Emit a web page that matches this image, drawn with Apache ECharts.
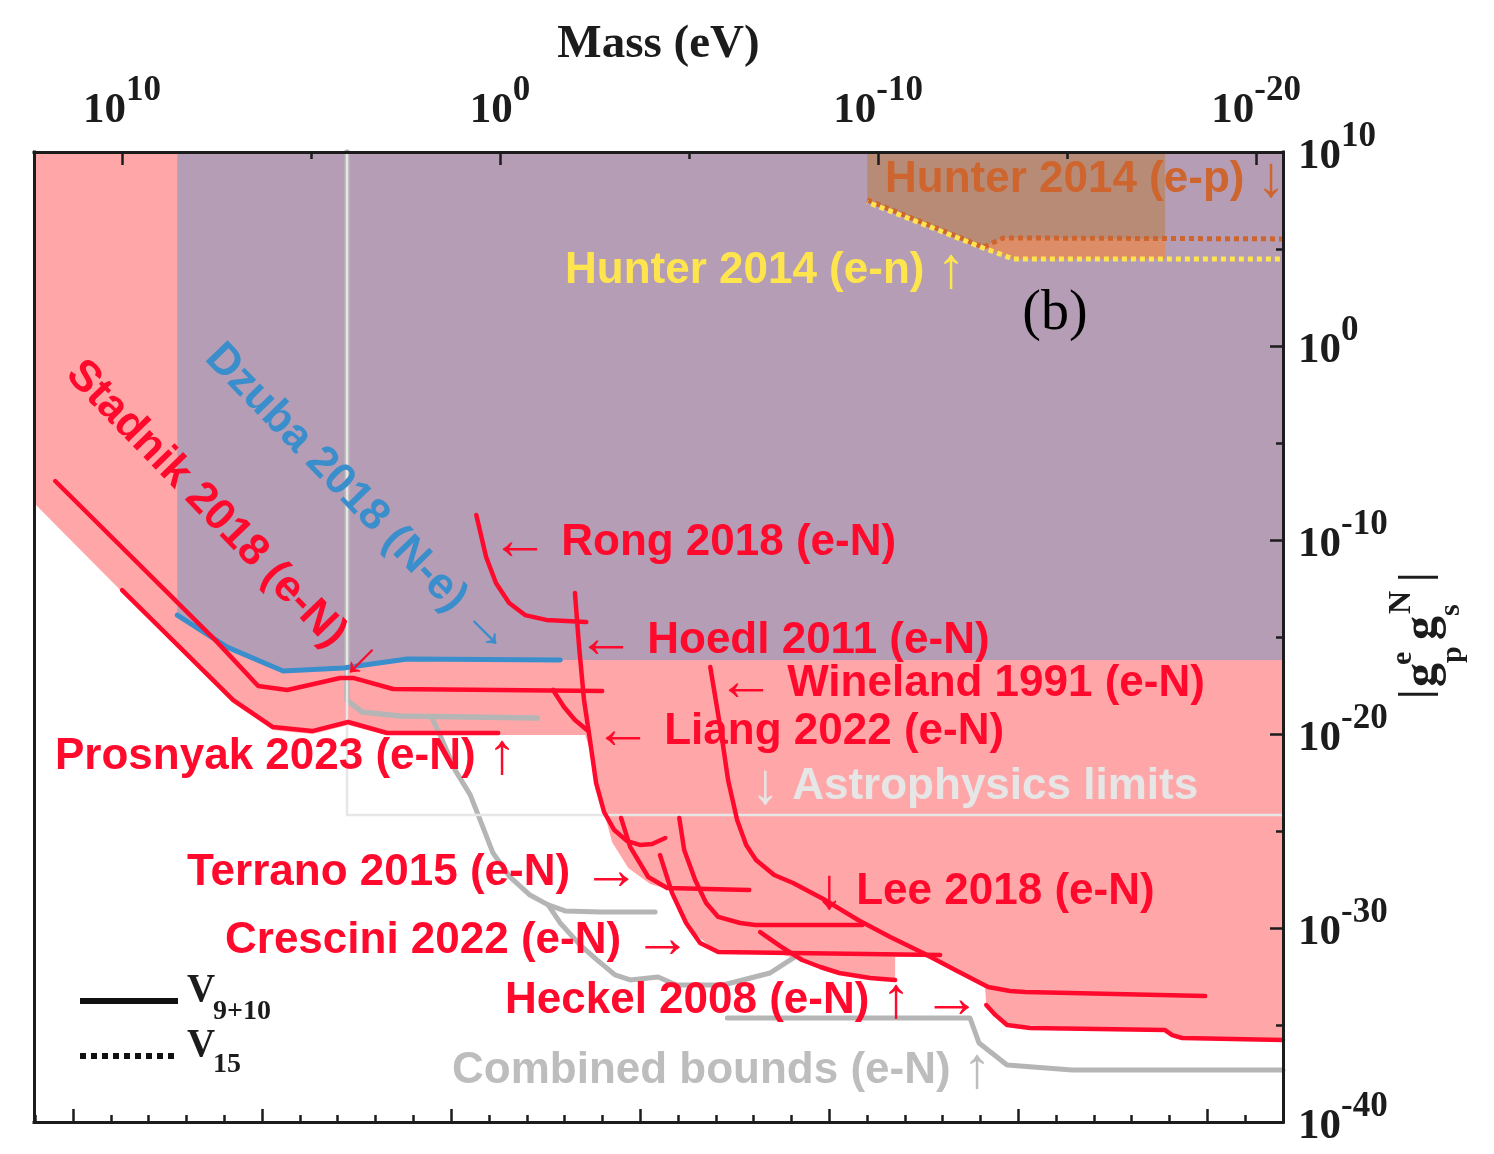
<!DOCTYPE html>
<html>
<head>
<meta charset="utf-8">
<title>Spin-dependent electron–nucleon coupling limits</title>
<script src="https://cdn.jsdelivr.net/npm/echarts@6/dist/echarts.min.js"></script>
<style>
  html, body { margin: 0; padding: 0; background: #ffffff; }
  #chart { width: 1494px; height: 1154px; }
</style>
</head>
<body>
<div id="chart"></div>
<script>
// All axis values are decimal exponents:
//   x = log10(mass / eV), y = log10 |g_p^e g_s^N|
const massRange = [-20.71, 12.33];
const couplingRange = [-40, 10];

// Tick exponents
const massLabelExps = [10, 0, -10, -20];
const massMinorExps = [5, -5, -15];
const couplingLabelExps = [10, 0, -10, -20, -30, -40];
const couplingMinorExps = [5, -5, -15, -25, -35];
// Compton-wavelength decades (metres) on the lower axis, lambda = hbar*c / m
const lambdaMajorExps = [-18, -13, -8, -3, 2, 7, 12];
const lambdaMinorExps = [-19, -17, -16, -15, -14, -12, -11, -10, -9, -7, -6, -5, -4,
                         -2, -1, 0, 1, 3, 4, 5, 6, 8, 9, 10, 11, 13, 14];
const HBAR_C_EV_M = 1.97327e-7;

// Excluded regions (lower edges)
const labExcludedEdge = [[12.33,-8.09],[10.05,-12.58],[7.06,-18.40],[6.01,-19.79],[4.97,-20.00],
  [4.02,-19.54],[2.99,-20.05],[-2.25,-20.05],[-2.38,-20.82],[-2.57,-22.37],[-2.75,-24.02],
  [-2.96,-25.57],[-3.39,-26.91],[-3.97,-27.73],[-4.42,-27.99],[-4.55,-28.20],[-5.03,-30.10],
  [-5.77,-31.29],[-7.49,-31.39],[-7.99,-31.65],[-8.97,-32.32],[-10.45,-32.68],[-10.45,-31.49],
  [-11.24,-31.49],[-12.04,-32.16],[-12.83,-33.09],[-12.86,-33.97],[-13.41,-35.00],[-17.59,-35.26],
  [-18.04,-35.77],[-20.71,-35.77]];
const dzubaLimit = [[8.54,-13.87],[7.22,-15.52],[5.74,-16.75],[4.15,-16.60],[2.46,-16.13],[-1.59,-16.19]];
const hunterEpLimit = [[-9.71,7.53],[-12.78,5.10],[-13.31,5.57],[-20.71,5.52]];
const hunterEnLimit = [[-9.71,7.42],[-12.78,5.05],[-13.23,4.74],[-13.57,4.48],[-20.71,4.48]];
const hunterEpPatch = [[-9.71,7.53],[-12.78,5.10],[-13.31,5.57],[-17.59,5.52]];
const hunterEnPatch = [[-12.78,5.05],[-13.23,4.74],[-13.57,4.48],[-17.59,4.48]];

// Laboratory limits (e-N)
const stadnik2018 = [[11.77,-6.96],[7.54,-15.15],[6.40,-17.53],[5.63,-17.73],[4.23,-17.11],
  [3.89,-17.11],[2.83,-17.68],[-2.70,-17.78]];
const prosnyak2023 = [[10.00,-12.58],[7.06,-18.25],[6.01,-19.64],[4.97,-19.85],[4.02,-19.38],
  [2.99,-19.95],[0.05,-19.95]];
const rong2018 = [[0.63,-8.71],[0.37,-10.88],[0.11,-12.22],[-0.24,-13.25],[-0.66,-13.87],
  [-1.22,-14.12],[-2.28,-14.23]];
const hoedl2011 = [[-1.98,-12.73],[-2.09,-15.52],[-2.22,-18.25],[-2.35,-19.95],[-2.54,-22.53],
  [-2.75,-24.02],[-3.02,-24.95],[-3.36,-25.52],[-3.70,-25.72],[-4.02,-25.67],[-4.37,-25.36]];
const liang2022 = [[-1.40,-17.73],[-1.69,-18.61],[-1.98,-19.28],[-2.33,-19.85]];
const terrano2015 = [[-3.20,-24.33],[-3.44,-25.82],[-3.92,-27.37],[-4.42,-27.94],[-6.59,-28.04]];
const crescini2022 = [[-4.23,-26.24],[-4.55,-28.20],[-4.92,-29.74],[-5.29,-30.77],[-5.77,-31.24],
  [-11.64,-31.39]];
const lee2018 = [[-4.74,-24.33],[-4.87,-25.98],[-5.16,-27.53],[-5.45,-28.71],[-5.77,-29.43],
  [-6.35,-29.74],[-6.75,-29.85],[-9.58,-29.85]];
const wineland1991 = [[-5.56,-16.55],[-5.85,-19.95],[-6.03,-22.37],[-6.27,-24.43],[-6.51,-25.72],
  [-6.77,-26.49],[-7.25,-27.27],[-7.75,-27.68],[-8.60,-28.56],[-9.47,-29.59],[-10.32,-30.46],
  [-11.19,-31.29],[-12.04,-32.16],[-12.91,-33.04],[-13.49,-33.25],[-13.89,-33.30],[-18.65,-33.51]];
const heckel2008 = [[-6.88,-30.21],[-7.41,-30.93],[-7.99,-31.65],[-8.47,-32.01],[-8.97,-32.32],
  [-9.79,-32.58],[-10.45,-32.68]];
const heckel2008Low = [[-12.86,-33.97],[-13.10,-34.48],[-13.41,-35.00],[-14.02,-35.15],
  [-17.59,-35.26],[-17.78,-35.52],[-18.04,-35.67],[-20.71,-35.77]];

// Astrophysics limit and combined bounds
const astroLimit = [[4.05,10],[4.05,-24.18],[-20.71,-24.18]];
const combinedA = [[4.05,10],[4.05,-18.25],[3.65,-18.87],[2.65,-19.07],[-0.98,-19.18]];
const combinedB = [[1.80,-19.18],[1.59,-20.05],[1.19,-21.86],[0.79,-23.14],[0.53,-24.43],
  [0.19,-26.13],[-0.26,-27.37],[-0.79,-28.30],[-1.27,-28.81],[-1.72,-29.12],[-2.65,-29.18],[-4.10,-29.18]];
const combinedC = [[-1.27,-28.81],[-1.59,-29.74],[-2.12,-30.88],[-2.57,-31.65],[-3.04,-32.42],
  [-3.44,-32.68],[-4.18,-32.53],[-4.66,-32.94],[-5.90,-32.94],[-7.14,-32.32],[-7.80,-31.49]];
const combinedD = [[-6.01,-34.64],[-12.43,-34.64],[-12.67,-35.93],[-13.41,-37.06],[-15.13,-37.32],
  [-20.71,-37.32]];

// Colours
const RED = '#FF0A2D';
const PINK = '#FFA7A8';
const PURPLE = '#B49DB5';
const BLUE = '#3A8ECB';
const GRAY = '#B5B5B5';
const LIGHT = '#E6E6E6';
const ORANGE = '#CF652E';
const YELLOW = '#FFE54D';
const BROWN = '#B88B76';
const STRIP = '#DD8D67';
const INK = '#1c1c1c';

const lambdaToMass = (e) => Math.log10(HBAR_C_EV_M) - e;

function powerLabel(v) {
  return '{b|10}{s|' + Math.round(v) + '}';
}
const powerRich = {
  b: { fontFamily: 'Liberation Serif', fontWeight: 'bold', fontSize: 43, lineHeight: 59,
       verticalAlign: 'bottom', color: INK },
  s: { fontFamily: 'Liberation Serif', fontWeight: 'bold', fontSize: 35, lineHeight: 36,
       verticalAlign: 'top', color: INK }
};

function curve(name, data, color, width, extra) {
  return Object.assign({
    name: name, type: 'line', data: data, symbol: 'none', showSymbol: false, silent: true,
    lineStyle: { color: color, width: width, cap: 'round', join: 'round' }
  }, extra || {});
}
function region(name, data, color) {
  return {
    name: name, type: 'line', data: data, symbol: 'none', showSymbol: false, silent: true,
    lineStyle: { width: 0, opacity: 0 },
    areaStyle: { color: color, opacity: 1, origin: 'end' }
  };
}

const frameLine = { show: true, onZero: false, lineStyle: { color: INK, width: 3, cap: 'square' } };
const hiddenLine = { show: false, onZero: false };
const tickLine = { color: INK, width: 2.5 };
const xBase = { type: 'value', min: massRange[0], max: massRange[1], inverse: true,
                splitLine: { show: false }, z: 10 };
const yBase = { type: 'value', min: couplingRange[0], max: couplingRange[1],
                splitLine: { show: false }, z: 10 };

const serifBold = 'Liberation Serif';
const sans = 'Liberation Sans';
const FS = 44;
const AFS = 58;

function note(x, y, text, color, extra, align) {
  const al = align || 'left';
  return Object.assign({
    type: 'text', x: x, y: y, z: 60, silent: true,
    style: {
      text: text, fill: color,
      fontFamily: sans, fontWeight: 'bold', fontSize: FS,
      align: al, verticalAlign: 'middle', textAlign: al, textVerticalAlign: 'middle',
      rich: {
        t: { fontFamily: sans, fontWeight: 'bold', fontSize: FS, fill: color, color: color, verticalAlign: 'middle' },
        a: { fontFamily: sans, fontWeight: 'normal', fontSize: AFS, fill: color, color: color, verticalAlign: 'middle' }
      }
    }
  }, extra || {});
}
function glyph(x, y, text, font, extra) {
  return Object.assign({
    type: 'text', x: x, y: y, z: 60, silent: true,
    style: { text: text, fill: INK, font: font, align: 'left', verticalAlign: 'middle',
             textAlign: 'left', textVerticalAlign: 'middle' }
  }, extra || {});
}

const option = {
  animation: false,
  backgroundColor: '#ffffff',
  grid: { left: 34, right: 211, top: 152, bottom: 32, containLabel: false, outerBoundsMode: 'none' },
  xAxis: [
    Object.assign({}, xBase, {
      position: 'top',
      name: 'Mass (eV)', nameLocation: 'middle', nameGap: 80,
      nameTextStyle: { fontFamily: serifBold, fontWeight: 'bold', fontSize: 47, color: INK },
      axisLine: frameLine,
      axisTick: { show: true, inside: true, length: 13, lineStyle: tickLine, customValues: massLabelExps },
      axisLabel: { show: true, customValues: massLabelExps, margin: 20, formatter: powerLabel, rich: powerRich }
    }),
    Object.assign({}, xBase, {
      position: 'top',
      axisLine: hiddenLine,
      axisTick: { show: true, inside: true, length: 7, lineStyle: tickLine, customValues: massMinorExps },
      axisLabel: { show: false }
    }),
    Object.assign({}, xBase, {
      position: 'bottom',
      axisLine: frameLine,
      axisTick: { show: true, inside: true, length: 13, lineStyle: tickLine,
                  customValues: lambdaMajorExps.map(lambdaToMass) },
      axisLabel: { show: false }
    }),
    Object.assign({}, xBase, {
      position: 'bottom',
      axisLine: hiddenLine,
      axisTick: { show: true, inside: true, length: 7, lineStyle: tickLine,
                  customValues: lambdaMinorExps.map(lambdaToMass) },
      axisLabel: { show: false }
    })
  ],
  yAxis: [
    Object.assign({}, yBase, {
      position: 'right',
      axisLine: frameLine,
      axisTick: { show: true, inside: true, length: 13, lineStyle: tickLine, customValues: couplingLabelExps },
      axisLabel: { show: true, customValues: couplingLabelExps, margin: 15, padding: [0, 0, 6, 0],
                   formatter: powerLabel, rich: powerRich }
    }),
    Object.assign({}, yBase, {
      position: 'right',
      axisLine: hiddenLine,
      axisTick: { show: true, inside: true, length: 7, lineStyle: tickLine, customValues: couplingMinorExps },
      axisLabel: { show: false }
    }),
    Object.assign({}, yBase, {
      position: 'left',
      axisLine: frameLine,
      axisTick: { show: false },
      axisLabel: { show: false }
    })
  ],
  series: [
    region('Laboratory excluded', labExcludedEdge, PINK),
    region('Dzuba excluded', dzubaLimit.concat([[massRange[0], dzubaLimit[dzubaLimit.length - 1][1]]]), PURPLE),
    region('Hunter e-n excluded', hunterEnPatch, STRIP),
    region('Hunter e-p excluded', hunterEpPatch, BROWN),
    curve('Combined bounds A', combinedA, GRAY, 5.5),
    curve('Combined bounds B', combinedB, GRAY, 5),
    curve('Combined bounds C', combinedC, GRAY, 5),
    curve('Combined bounds D', combinedD, GRAY, 5),
    curve('Astrophysics limits', astroLimit, LIGHT, 2.5, { lineStyle: { color: LIGHT, width: 2.5, cap: 'butt', join: 'miter' } }),
    curve('Dzuba 2018 (N-e)', dzubaLimit, BLUE, 5),
    curve('Stadnik 2018 (e-N)', stadnik2018, RED, 4.5),
    curve('Prosnyak 2023 (e-N)', prosnyak2023, RED, 4.5),
    curve('Rong 2018 (e-N)', rong2018, RED, 4.5),
    curve('Hoedl 2011 (e-N)', hoedl2011, RED, 4.5),
    curve('Liang 2022 (e-N)', liang2022, RED, 4.5),
    curve('Terrano 2015 (e-N)', terrano2015, RED, 4.5),
    curve('Crescini 2022 (e-N)', crescini2022, RED, 4.5),
    curve('Lee 2018 (e-N)', lee2018, RED, 4.5),
    curve('Wineland 1991 (e-N)', wineland1991, RED, 4.5),
    curve('Heckel 2008 (e-N)', heckel2008, RED, 4.5),
    curve('Heckel 2008 (e-N) low', heckel2008Low, RED, 4.5),
    curve('Hunter 2014 (e-p)', hunterEpLimit, ORANGE, 5,
      { lineStyle: { color: ORANGE, width: 5, type: [5, 4], cap: 'butt' } }),
    curve('Hunter 2014 (e-n)', hunterEnLimit, YELLOW, 5,
      { lineStyle: { color: YELLOW, width: 5, type: [5, 4], dashOffset: 4.5, cap: 'butt' } })
  ],
  graphic: [
    // experiment annotations
    note(491, 543, '{a|←}{t| Rong 2018 (e-N)}', RED),
    note(577, 641, '{a|←}{t| Hoedl 2011 (e-N)}', RED),
    note(717, 684, '{a|←}{t| Wineland 1991 (e-N)}', RED),
    note(594, 732, '{a|←}{t| Liang 2022 (e-N)}', RED),
    note(55, 757, '{t|Prosnyak 2023 (e-N) }{a|↑}', RED),
    note(751, 787, '{a|↓}{t| Astrophysics limits}', LIGHT),
    note(187, 873, '{t|Terrano 2015 (e-N) }{a|→}', RED),
    note(815, 892, '{a|↓}{t| Lee 2018 (e-N)}', RED),
    note(225, 941, '{t|Crescini 2022 (e-N) }{a|→}', RED),
    note(505, 1001, '{t|Heckel 2008 (e-N) }{a|↑}{t| }{a|→}', RED),
    note(452, 1071, '{t|Combined bounds (e-N) }{a|↑}', '#BDBDBD'),
    note(565, 271, '{t|Hunter 2014 (e-n) }{a|↑}', YELLOW),
    note(885, 180, '{t|Hunter 2014 (e-p) }{a|↓}', ORANGE),
    note(0, 0, '{t|Stadnik 2018 (e-N)}', RED, { x: 206, y: 504, rotation: -0.80 }, 'center'),
    note(0, 0, '{t|Dzuba 2018 (N-e)}', BLUE, { x: 336, y: 478, rotation: -0.80 }, 'center'),
    // pointer arrows
    { type: 'text', x: 489, y: 628, rotation: -Math.PI / 4, z: 60, silent: true,
      style: { text: '→', fill: BLUE, fontFamily: sans, fontSize: 54, align: 'center', verticalAlign: 'middle',
               textAlign: 'center', textVerticalAlign: 'middle' } },
    { type: 'text', x: 357, y: 657, rotation: Math.PI / 4, z: 60, silent: true,
      style: { text: '←', fill: RED, fontFamily: sans, fontSize: 54, align: 'center', verticalAlign: 'middle',
               textAlign: 'center', textVerticalAlign: 'middle' } },
    // panel tag
    { type: 'text', x: 1055, y: 314, z: 60, silent: true,
      style: { text: '(b)', fill: '#000000', font: '56px "Liberation Serif"', align: 'center',
               verticalAlign: 'middle', textAlign: 'center', textVerticalAlign: 'middle' } },
    // line-style key
    { type: 'line', z: 60, silent: true, shape: { x1: 80, y1: 1001, x2: 178, y2: 1001 },
      style: { stroke: '#111111', lineWidth: 6 } },
    { type: 'line', z: 60, silent: true, shape: { x1: 80, y1: 1056, x2: 178, y2: 1056 },
      style: { stroke: '#111111', lineWidth: 6, lineDash: [6, 5] } },
    glyph(187, 991, 'V', 'bold 39px "Liberation Serif"'),
    glyph(213, 1012, '9+10', 'bold 28px "Liberation Serif"'),
    glyph(187, 1046, 'V', 'bold 39px "Liberation Serif"'),
    glyph(213, 1065, '15', 'bold 28px "Liberation Serif"'),
    // coupling axis title, reading bottom to top
    { type: 'group', x: 1440, y: 700, rotation: Math.PI / 2, z: 60, silent: true,
      children: [
        glyph(1, -22, '|', 'bold 44px "Liberation Serif"'),
        glyph(13, -16, 'g', 'bold 48px "Liberation Serif"'),
        glyph(35, -37, 'e', 'bold 30px "Liberation Serif"'),
        glyph(37, 13, 'p', 'bold 30px "Liberation Serif"'),
        glyph(60, -16, 'g', 'bold 48px "Liberation Serif"'),
        glyph(86, -38, 'N', 'bold 32px "Liberation Serif"'),
        glyph(84, 11, 's', 'bold 30px "Liberation Serif"'),
        glyph(118, -22, '|', 'bold 44px "Liberation Serif"')
      ] }
  ]
};

const chart = echarts.init(document.getElementById('chart'), null, { renderer: 'canvas', width: 1494, height: 1154 });
chart.setOption(option);
</script>
</body>
</html>
